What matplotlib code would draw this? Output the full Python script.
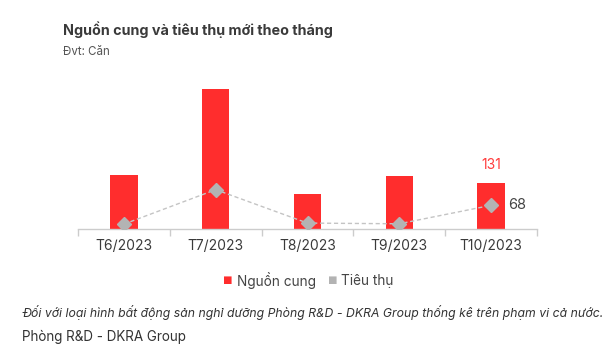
import matplotlib.pyplot as plt
import numpy as np

plt.rcParams['font.family'] = ['Inter', 'DejaVu Sans']

thang = ['T6/2023', 'T7/2023', 'T8/2023', 'T9/2023', 'T10/2023']
nguon_cung = [155, 402, 100, 152, 131]
tieu_thu = [14, 113, 17, 15, 68]

W, H = 614, 363
fig = plt.figure(figsize=(W / 100, H / 100), dpi=100)

def px(x, y):
    return x / W, 1 - y / H

# vùng trục
left, bottom = px(78, 229)
right, top = px(537, 80)
ax = fig.add_axes([left, bottom, right - left, top - bottom])

x = np.arange(len(thang))
ax.bar(x, nguon_cung, width=0.3, color='#ff2d2d', zorder=2)
ax.plot(x, tieu_thu, linestyle=(0, (3, 2)), color='#c4c4c4', lw=1, zorder=3)
ax.plot(x, tieu_thu, linestyle='none', marker='D', markersize=7,
        color='#b3b3b3', zorder=4)

ax.set_xlim(-0.5, len(thang) - 0.5)
ax.set_ylim(0, 428)

for s in ['top', 'right', 'left']:
    ax.spines[s].set_visible(False)
ax.spines['bottom'].set_color('#cccccc')
ax.spines['bottom'].set_linewidth(1)
ax.set_yticks([])

ax.set_xticks(x)
ax.set_xticklabels(thang, fontsize=10, color='#3a3a3a')
ax.tick_params(axis='x', length=0, pad=7)
ax.set_xticks(np.arange(-0.5, len(thang)), minor=True)
ax.tick_params(axis='x', which='minor', length=5, color='#cccccc', width=1)

# nhãn giá trị cột cuối
ax.annotate(str(nguon_cung[-1]), (x[-1], nguon_cung[-1]), xytext=(0, 8),
            textcoords='offset points', ha='center', va='bottom',
            fontsize=10, color='#ff3b3b')
ax.annotate(str(tieu_thu[-1]), (x[-1], tieu_thu[-1]), xytext=(12, 0),
            textcoords='offset points', ha='left', va='center',
            fontsize=10.5, color='#444444')

# tiêu đề
fig.text(*px(63, 30), 'Nguồn cung và tiêu thụ mới theo tháng', fontsize=10.3,
         fontweight='bold', color='#3a3a3a', va='center', ha='left')
fig.text(*px(63, 52), 'Đvt: Căn', fontsize=8.3, color='#555555',
         va='center', ha='left')

# chú giải
lx, ly = px(228, 281)
fig.text(lx, ly, '■', fontsize=7.5, color='#ff2d2d', va='center', ha='center')
fig.text(*px(237, 281), 'Nguồn cung', fontsize=9.8, color='#444444',
         va='center', ha='left')
mx, my = px(333, 281)
fig.text(mx, my, '■', fontsize=7.5, color='#b3b3b3', va='center', ha='center')
fig.text(*px(341, 281), 'Tiêu thụ', fontsize=9.8, color='#444444',
         va='center', ha='left')

# ghi chú
fig.text(*px(22, 312), 'Đối với loại hình bất động sản nghỉ dưỡng Phòng R&D - DKRA Group '
         'thống kê trên phạm vi cả nước.', fontsize=8.8, style='italic',
         color='#333333', va='center', ha='left')
fig.text(*px(22, 337), 'Phòng R&D - DKRA Group', fontsize=9.7, color='#333333',
         va='center', ha='left')

fig.savefig('out.png', dpi=100)
